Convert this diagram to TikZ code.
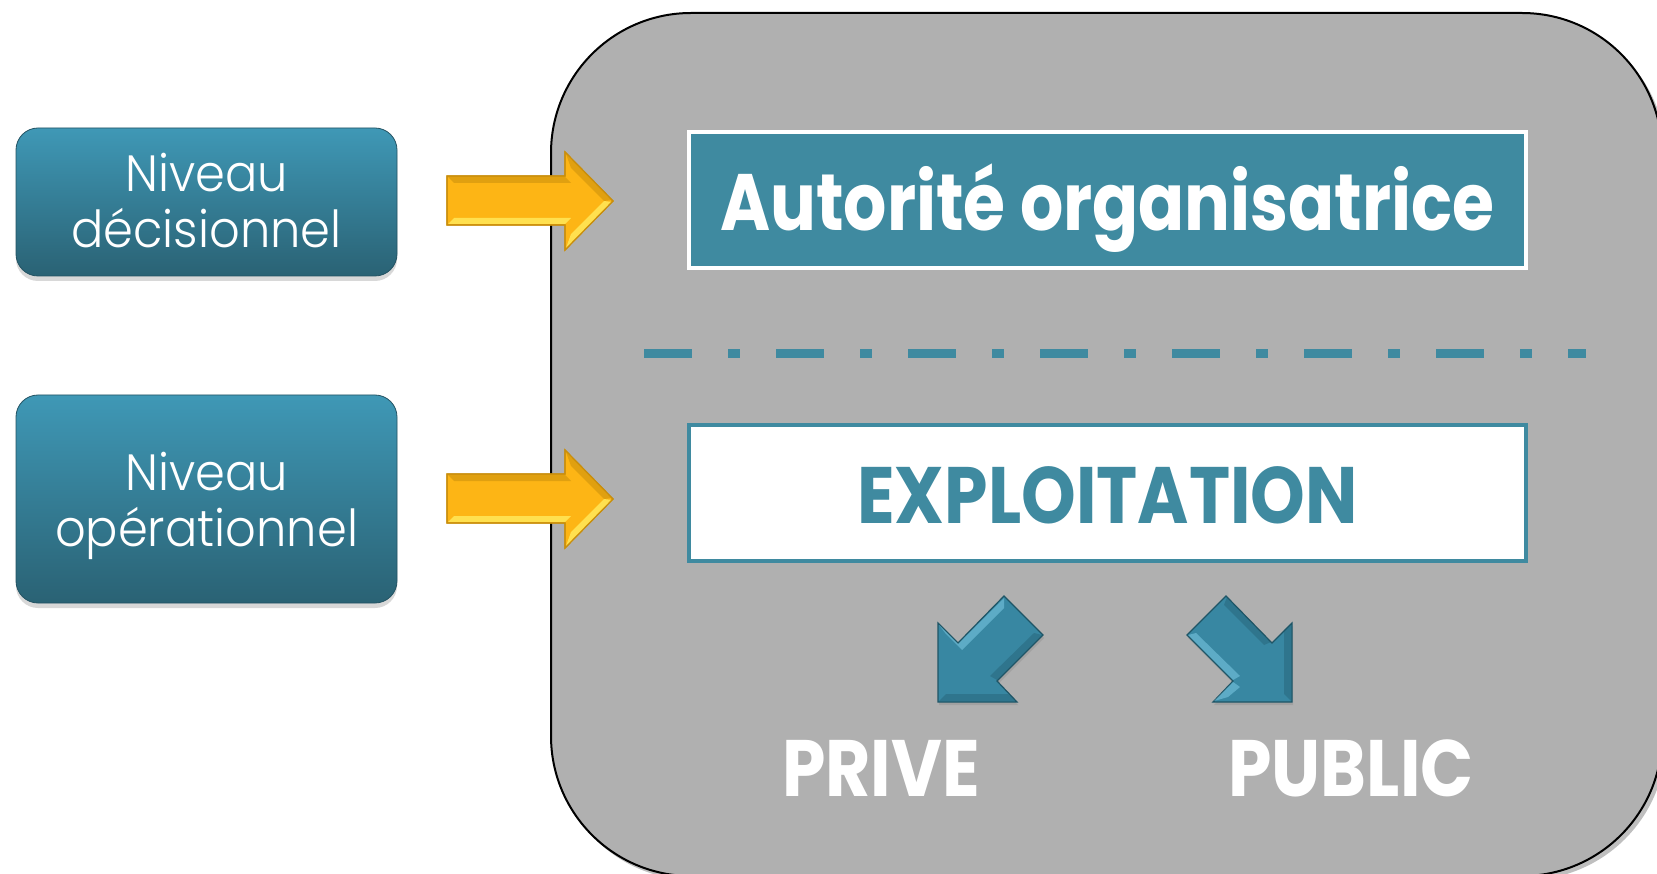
\documentclass[tikz,border=0pt]{standalone}
\usepackage{fontspec}
\setmainfont{Poppins}
\newfontfamily\lightfont{Poppins Light}[FakeStretch=0.94]
\newfontfamily\headfont{Poppins}[FakeStretch=0.87]
\newfontfamily\titlefont{Poppins}[FakeStretch=0.85]
\usetikzlibrary{shadows}

\definecolor{panelgray}{HTML}{B0B0B0}
\definecolor{teal}{HTML}{3F8AA0}
\definecolor{lvtop}{HTML}{3F98B6}
\definecolor{lvbot}{HTML}{2A6274}
\definecolor{goldmain}{HTML}{FDB515}
\definecolor{golddark}{HTML}{C98E0C}
\definecolor{goldlight}{HTML}{FFE04F}
\definecolor{bluearrow}{HTML}{3887A2}
\definecolor{blueedge}{HTML}{1F5566}
\definecolor{bluelight}{HTML}{7CCAE4}

\begin{document}
\begin{tikzpicture}[x=1pt,y=-1pt,
  levelbox/.style={rounded corners=22pt, text=white,
    font=\lightfont\fontsize{51}{56}\selectfont, align=center,
    minimum width=381pt, inner sep=0pt, top color=lvtop, bottom color=lvbot,
    draw=lvbot!85!black, line width=0.8pt,
    drop shadow={shadow xshift=0pt, shadow yshift=-5pt, opacity=0.3}},
  titlebox/.style={minimum width=837pt, minimum height=136pt, inner sep=0pt,
    line width=4pt, text height=62pt, text depth=0pt},
  sidelabel/.style={anchor=base, text=white, inner sep=0pt,
    font=\headfont\bfseries\fontsize{80}{80}\selectfont},
  goldarrow/.style={draw=golddark, line width=1.2pt, line join=miter, fill=goldmain},
  goldshade/.style={fill=golddark!55!goldmain},
  goldshine/.style={fill=goldlight},
  bluetip/.style={draw=blueedge, line width=1.2pt, line join=miter,
    fill=bluearrow, drop shadow={shadow xshift=1pt, shadow yshift=-3pt, opacity=0.3}},
  blueshine/.style={fill=bluelight, opacity=0.55},
  blueshade/.style={fill=blueedge, opacity=0.35}
]
\useasboundingbox (0,0) rectangle (1657,874);
\fill[white] (0,0) rectangle (1657,874);

% outer panel, cut by the page edge
\begin{scope}
  \clip (0,0) rectangle (1657,874);
  \fill[black, opacity=0.25] (554,17) [rounded corners=140pt] rectangle (1666,880);
  \draw[fill=panelgray, line width=2pt, rounded corners=140pt] (551,13) rectangle (1662,876);
\end{scope}

% level boxes on the left
\node[levelbox, minimum height=148pt, text height=100pt, text depth=8pt]
  (dec) at (206.5,202) {Niveau\\décisionnel};
\node[levelbox, minimum height=208pt, text height=102pt, text depth=8pt]
  (ope) at (206.5,499) {Niveau\\opérationnel};

% gold arrows pointing into the panel, with bevelled faces
\foreach \dy/\nm in {0/arrdec, 298/arrope}{
  \begin{scope}[yshift=-\dy pt]
    \coordinate (\nm) at (613,201);
    \path[goldarrow] (447,176) -- (565,176) -- (565,152) -- (\nm)
      -- (565,250) -- (565,225) -- (447,225) -- cycle;
    \path[goldshade] (448,177) -- (565,177) -- (571,183) -- (454,183) -- cycle;
    \path[goldshade] (566,154) -- (612,200) -- (604,201) -- (571,168) -- cycle;
    \path[goldshine] (448,224) -- (565,224) -- (571,218) -- (454,218) -- cycle;
    \path[goldshine] (566,248) -- (612,202) -- (604,201) -- (571,234) -- cycle;
    \draw[golddark, line width=1.2pt, line join=miter]
      (447,176) -- (565,176) -- (565,152) -- (\nm)
      -- (565,250) -- (565,225) -- (447,225) -- cycle;
  \end{scope}
}

% upper level
\node[titlebox, draw=white, fill=teal, text=white,
  font=\titlefont\bfseries\fontsize{80}{80}\selectfont] (ao) at (1107.5,200)
  {Autorité organisatrice};

% separator between the two levels
\coordinate (sepL) at (644,354);
\coordinate (sepR) at (1586,354);
\draw[teal, line width=9pt, dash pattern=on 48pt off 36pt on 12pt off 36pt]
  (sepL) -- (sepR);

% lower level
\node[titlebox, draw=teal, fill=white, text=teal,
  font=\headfont\bfseries\fontsize{80}{80}\selectfont] (exp) at (1107.5,492.5)
  {EXPLOITATION};

% the two branches of operation
\path[bluetip] (938,702) -- (938,623) -- (958,643) -- (1004,596) -- (1043,635)
  -- (997,681) -- (1017,702) -- cycle;
\path[blueshine] (939,625) -- (958,644) -- (1004,598) -- (1004,608) -- (962,650) -- (946,634) -- cycle;
\path[blueshade] (1042,635) -- (997,680) -- (990,676) -- (1034,633) -- cycle;
\path[blueshade] (939,701) -- (1016,701) -- (1008,694) -- (946,694) -- cycle;
\path[bluetip] (1292,702) -- (1292,623) -- (1272,643) -- (1226,596) -- (1187,635)
  -- (1233,681) -- (1213,702) -- cycle;
\path[blueshine] (1188,635) -- (1233,680) -- (1240,676) -- (1196,633) -- cycle;
\path[blueshine] (1214,701) -- (1233,682) -- (1240,687) -- (1228,697) -- cycle;
\path[blueshade] (1291,624) -- (1291,701) -- (1284,694) -- (1284,630) -- cycle;
\path[blueshade] (1227,597) -- (1271,642) -- (1264,645) -- (1224,605) -- cycle;

\node[sidelabel] (prive) at (881,796) {PRIVE};
\node[sidelabel] (public) at (1351,796) {PUBLIC};
\end{tikzpicture}
\end{document}
